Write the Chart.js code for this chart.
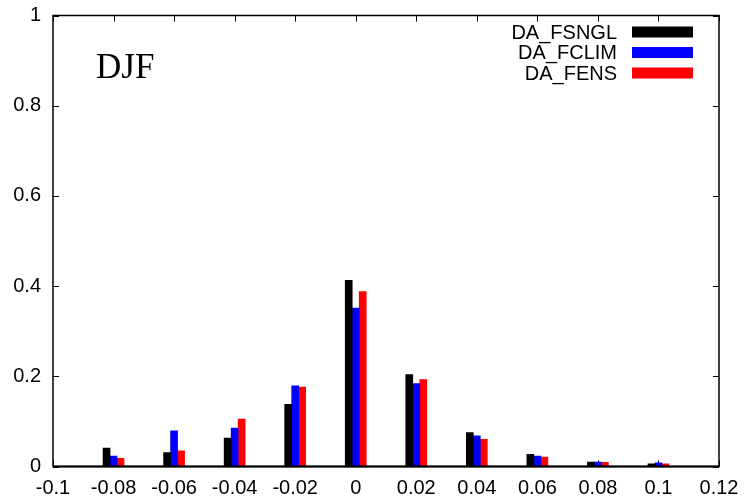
<!DOCTYPE html>
<html lang="en">
<head>
<meta charset="UTF-8">
<title>DJF</title>
<script src="https://cdn.jsdelivr.net/npm/chart.js@4"></script>
<style>
  html, body { margin: 0; padding: 0; background: #fff; }
</style>
</head>
<body>
<canvas id="grafico" width="747" height="501"></canvas>
<script>
// classes do histograma (centro de cada grupo de barras)
const classes = [-0.08, -0.06, -0.04, -0.02, 0, 0.02, 0.04, 0.06, 0.08, 0.1];
// frequencias
const fsngl = [0.041, 0.031, 0.063, 0.138, 0.413, 0.204, 0.075, 0.027, 0.010, 0.006];
const fclim = [0.023, 0.079, 0.085, 0.179, 0.351, 0.184, 0.068, 0.023, 0.010, 0.008];
const fens  = [0.018, 0.035, 0.105, 0.176, 0.388, 0.193, 0.060, 0.021, 0.009, 0.006];

const xTicks = [-0.1, -0.08, -0.06, -0.04, -0.02, 0, 0.02, 0.04, 0.06, 0.08, 0.1, 0.12];
const xTickLabels = ['-0.1', '-0.08', '-0.06', '-0.04', '-0.02', '0', '0.02', '0.04', '0.06', '0.08', '0.1', '0.12'];
const yTicks = [0, 0.2, 0.4, 0.6, 0.8, 1];
const yTickLabels = ['0', '0.2', '0.4', '0.6', '0.8', '1'];

const nomes = ['DA_FSNGL', 'DA_FCLIM', 'DA_FENS'];
const cores = ['#000000', '#0000ff', '#ff0000'];

function pontos(valores) {
    return classes.map((c, i) => ({ x: c, y: valores[i] }));
}

// moldura, ticks para dentro, rotulo DJF e legenda
const moldura = {
    id: 'moldura',
    beforeDatasetsDraw(chart) {
        const { ctx, chartArea: a, scales: { x, y } } = chart;
        ctx.save();
        ctx.strokeStyle = '#000';
        ctx.lineWidth = 1;
        ctx.beginPath();
        xTicks.forEach(v => {
            const px = Math.round(x.getPixelForValue(v)) + 0.5;
            ctx.moveTo(px, a.bottom); ctx.lineTo(px, a.bottom - 6);
            ctx.moveTo(px, a.top); ctx.lineTo(px, a.top + 6);
        });
        yTicks.forEach(v => {
            const py = Math.round(y.getPixelForValue(v)) + 0.5;
            ctx.moveTo(a.left, py); ctx.lineTo(a.left + 6, py);
            ctx.moveTo(a.right, py); ctx.lineTo(a.right - 6, py);
        });
        ctx.stroke();
        ctx.restore();
    },
    afterDraw(chart) {
        const { ctx, chartArea: a, scales: { x, y } } = chart;
        ctx.save();
        ctx.strokeStyle = '#000';
        ctx.lineWidth = 1.5;
        ctx.strokeRect(a.left, a.top, a.right - a.left, a.bottom - a.top);
        ctx.lineWidth = 2;
        ctx.beginPath();
        ctx.moveTo(a.left, a.bottom); ctx.lineTo(a.right, a.bottom);
        ctx.stroke();

        // rotulo da estacao
        ctx.fillStyle = '#000';
        ctx.font = '35px "Liberation Serif"';
        ctx.textAlign = 'left';
        ctx.textBaseline = 'alphabetic';
        ctx.fillText('DJF', x.getPixelForValue(-0.0858), y.getPixelForValue(0.861));

        // legenda
        ctx.font = '20px "Liberation Sans"';
        ctx.textAlign = 'right';
        ctx.textBaseline = 'middle';
        nomes.forEach((nome, i) => {
            const cy = a.top + 16.5 + i * 20.5;
            ctx.fillStyle = '#000';
            ctx.fillText(nome, a.right - 102, cy + 1);
            ctx.fillStyle = cores[i];
            ctx.fillRect(a.right - 87, cy - 5.5, 61, 11);
        });
        ctx.restore();
    }
};

const fonteTicks = { family: 'Liberation Sans', size: 20 };

const config = {
    type: 'bar',
    data: {
        datasets: [
            { label: nomes[0], data: pontos(fsngl), backgroundColor: cores[0] },
            { label: nomes[1], data: pontos(fclim), backgroundColor: cores[1] },
            { label: nomes[2], data: pontos(fens), backgroundColor: cores[2] }
        ]
    },
    options: {
        responsive: false,
        animation: false,
        barThickness: 7,
        borderWidth: 0,
        layout: { padding: { top: 15.5, right: 28, left: 0, bottom: 0 } },
        plugins: {
            legend: { display: false },
            tooltip: { enabled: false }
        },
        scales: {
            x: {
                type: 'linear',
                min: -0.1,
                max: 0.12,
                offset: false,
                grid: { display: false, drawTicks: false },
                border: { display: false },
                afterBuildTicks: scale => { scale.ticks = xTicks.map(v => ({ value: v })); },
                afterFit: scale => { scale.height = 34.5; scale.paddingLeft = 0; scale.paddingRight = 0; },
                ticks: {
                    autoSkip: false,
                    maxRotation: 0,
                    padding: 10,
                    color: '#000',
                    font: fonteTicks,
                    callback: (v, i) => xTickLabels[i]
                }
            },
            y: {
                min: 0,
                max: 1,
                grid: { display: false, drawTicks: false },
                border: { display: false },
                afterBuildTicks: scale => { scale.ticks = yTicks.map(v => ({ value: v })); },
                afterFit: scale => { scale.width = 53; scale.paddingTop = 0; scale.paddingBottom = 0; },
                ticks: {
                    padding: 12,
                    color: '#000',
                    font: fonteTicks,
                    callback: (v, i) => yTickLabels[i]
                }
            }
        }
    },
    plugins: [moldura]
};

new Chart(document.getElementById('grafico'), config);
</script>
</body>
</html>
